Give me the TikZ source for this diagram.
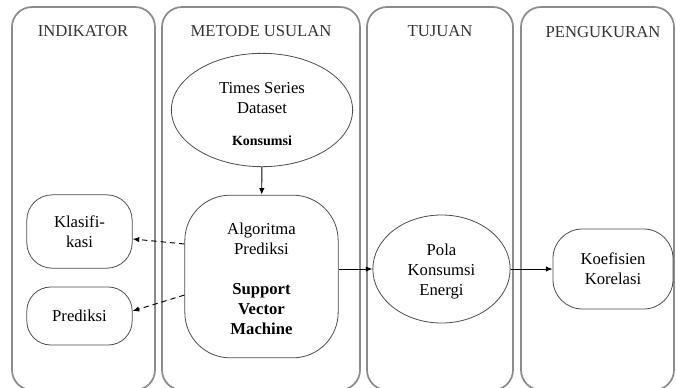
\documentclass[tikz,border=0pt]{standalone}
\usepackage{fontspec}
\setmainfont{Liberation Serif}
\usepackage{tikz}
\usetikzlibrary{shapes.geometric, arrows.meta}

\tikzset{
  panel/.style={draw=black!45, line width=1.3pt, rounded corners=15pt},
  paneltitle/.style={font=\fontsize{12.5}{15}\selectfont, text=black!80},
  box/.style={draw=black!70, line width=0.6pt, align=center, inner sep=0pt,
    text=black, font=\fontsize{12.5}{15}\selectfont},
  oval/.style={box, ellipse},
  flow/.style={-{Latex[length=5pt, width=4pt]}, line width=0.7pt},
  hint/.style={flow, dashed, dash pattern=on 4pt off 3pt}
}

\begin{document}
\begin{tikzpicture}[x=0.75pt, y=-0.75pt]
    \useasboundingbox (0,0) rectangle (676,387);

    % columns
    \draw[panel] (12,7) rectangle (155,390);
    \draw[panel] (162,7) rectangle (360,390);
    \draw[panel] (367,7) rectangle (513,390);
    \draw[panel] (521,7) rectangle (674,390);

    \node[paneltitle] (tind) at (83,31) {INDIKATOR};
    \node[paneltitle] (tmet) at (261,31) {METODE USULAN};
    \node[paneltitle] (ttuj) at (440,31) {TUJUAN};
    \node[paneltitle] (tpen) at (603,32) {PENGUKURAN};

    \node[oval, minimum width=136pt, minimum height=85pt] (data) at (262,110)
      {\rule{0pt}{15pt}Times Series\\Dataset\\[9pt]{\fontsize{10.5}{12}\selectfont\bfseries Konsumsi}};

    \node[box, rounded corners=34pt, minimum width=115pt, minimum height=122pt] (svm) at (261.5,276.5)
      {\rule{0pt}{12pt}Algoritma\\Prediksi\\[15pt]\textbf{Support}\\\textbf{Vector}\\\textbf{Machine}};

    \node[box, rounded corners=19pt, minimum width=79pt, minimum height=55pt] (klas) at (79.5,231.5)
      {Klasifi-\\kasi};
    \node[box, rounded corners=18pt, minimum width=79pt, minimum height=43.5pt] (pred) at (79.5,316)
      {Prediksi};

    \node[oval, minimum width=103pt, minimum height=81pt] (pola) at (441.5,269)
      {\rule{0pt}{12pt}Pola\\Konsumsi\\Energi};

    \node[box, rounded corners=22pt, minimum width=90pt, minimum height=60pt] (koef) at (613,269)
      {Koefisien\\Korelasi};

    \draw[flow] (data) -- (svm);
    \draw[flow] (svm.east |- pola.west) -- (pola.west);
    \draw[flow] (pola) -- (koef);

    \draw[hint] ([yshift=24.4pt]svm.west) -- ([yshift=-5.6pt]klas.east);
    \draw[hint] ([yshift=-13.9pt]svm.west) -- ([yshift=3.75pt]pred.east);
\end{tikzpicture}
\end{document}
